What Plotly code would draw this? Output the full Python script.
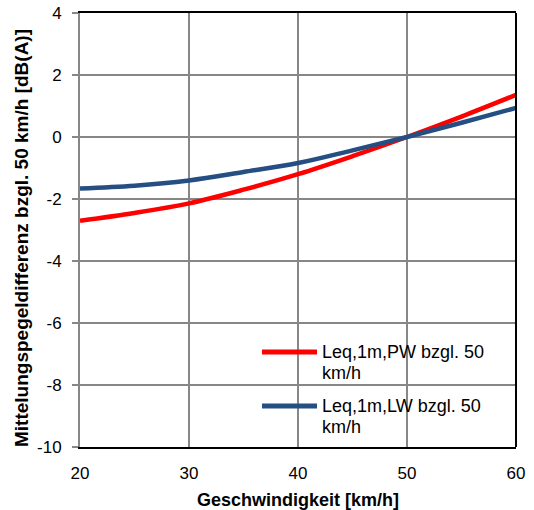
import plotly.graph_objects as go

speed = [20, 25, 30, 35, 40, 45, 50, 55, 60]
leq_pw = [-2.70, -2.45, -2.14, -1.70, -1.20, -0.62, 0.0, 0.66, 1.36]
leq_lw = [-1.66, -1.57, -1.40, -1.13, -0.84, -0.43, 0.0, 0.46, 0.94]
series_names = ["Leq,1m,PW bzgl. 50 km/h", "Leq,1m,LW bzgl. 50 km/h"]
series_colors = ["#FF0000", "#254E82"]
x_ticks = [20, 30, 40, 50, 60]
y_ticks = [-10, -8, -6, -4, -2, 0, 2, 4]
y_ticktext = ["-10", "-8", "-6", "-4", "-2", "0", "2", "4"]
x_title = "Geschwindigkeit [km/h]"
y_title = "Mittelungspegeldifferenz bzgl. 50 km/h [dB(A)]"

FONT = "Liberation Sans, Arial, sans-serif"
GRID = "#878787"

fig = go.Figure()
for ys, name, col in zip([leq_pw, leq_lw], series_names, series_colors):
    fig.add_trace(go.Scatter(x=speed, y=ys, mode="lines", name=name,
                             line=dict(color=col, width=4.5, shape="spline", smoothing=1.0),
                             showlegend=False))

fig.update_layout(
    width=534, height=510,
    margin=dict(l=80, r=18, t=13, b=63),
    paper_bgcolor="white", plot_bgcolor="white",
    font=dict(family=FONT, size=17, color="black"),
    xaxis=dict(range=[20, 60], tickvals=x_ticks, showgrid=True, gridcolor=GRID, gridwidth=2,
               zeroline=False, showline=True, linecolor="black", linewidth=2, mirror=True,
               ticks="", ticklabelstandoff=10, automargin=False,
               title=dict(text="<b>" + x_title + "</b>", font=dict(size=18), standoff=14)),
    yaxis=dict(range=[-10, 4], tickvals=y_ticks, ticktext=y_ticktext, showgrid=True,
               gridcolor=GRID, gridwidth=2,
               zeroline=False, showline=True, linecolor=GRID, linewidth=2, automargin=False,
               ticks="outside", ticklen=6, tickwidth=2, tickcolor=GRID, ticklabelstandoff=7),
)

# y-axis title
fig.add_annotation(xref="paper", yref="paper", x=0, y=0.5, xshift=-59, yshift=-8,
                   text="<b>" + y_title + "</b>", textangle=-90, showarrow=False,
                   xanchor="center", yanchor="middle", font=dict(size=19))

# right frame line
fig.add_shape(type="line", xref="paper", yref="paper", x0=1, x1=1, y0=0, y1=1,
              line=dict(color="black", width=2), layer="above")

# legend box (white background covering gridlines)
fig.add_shape(type="rect", xref="paper", yref="paper", x0=0.353, x1=1, y0=0, y1=0.2627,
              fillcolor="white", line=dict(width=0), layer="between")

leg_y = [(0.2189, 0.1705), (0.0945, 0.0461)]
for (y1, y2), name, col in zip(leg_y, series_names, series_colors):
    fig.add_shape(type="line", xref="paper", yref="paper", x0=0.4174, x1=0.5436, y0=y1, y1=y1,
                  line=dict(color=col, width=5), layer="above")
    first, second = name.rsplit(" ", 1)
    fig.add_annotation(xref="paper", yref="paper", x=0.5505, y=y1, text=first, showarrow=False,
                       xanchor="left", yanchor="middle", font=dict(size=18))
    fig.add_annotation(xref="paper", yref="paper", x=0.5505, y=y2, text=second, showarrow=False,
                       xanchor="left", yanchor="middle", font=dict(size=18))

fig.write_html("out.html")
